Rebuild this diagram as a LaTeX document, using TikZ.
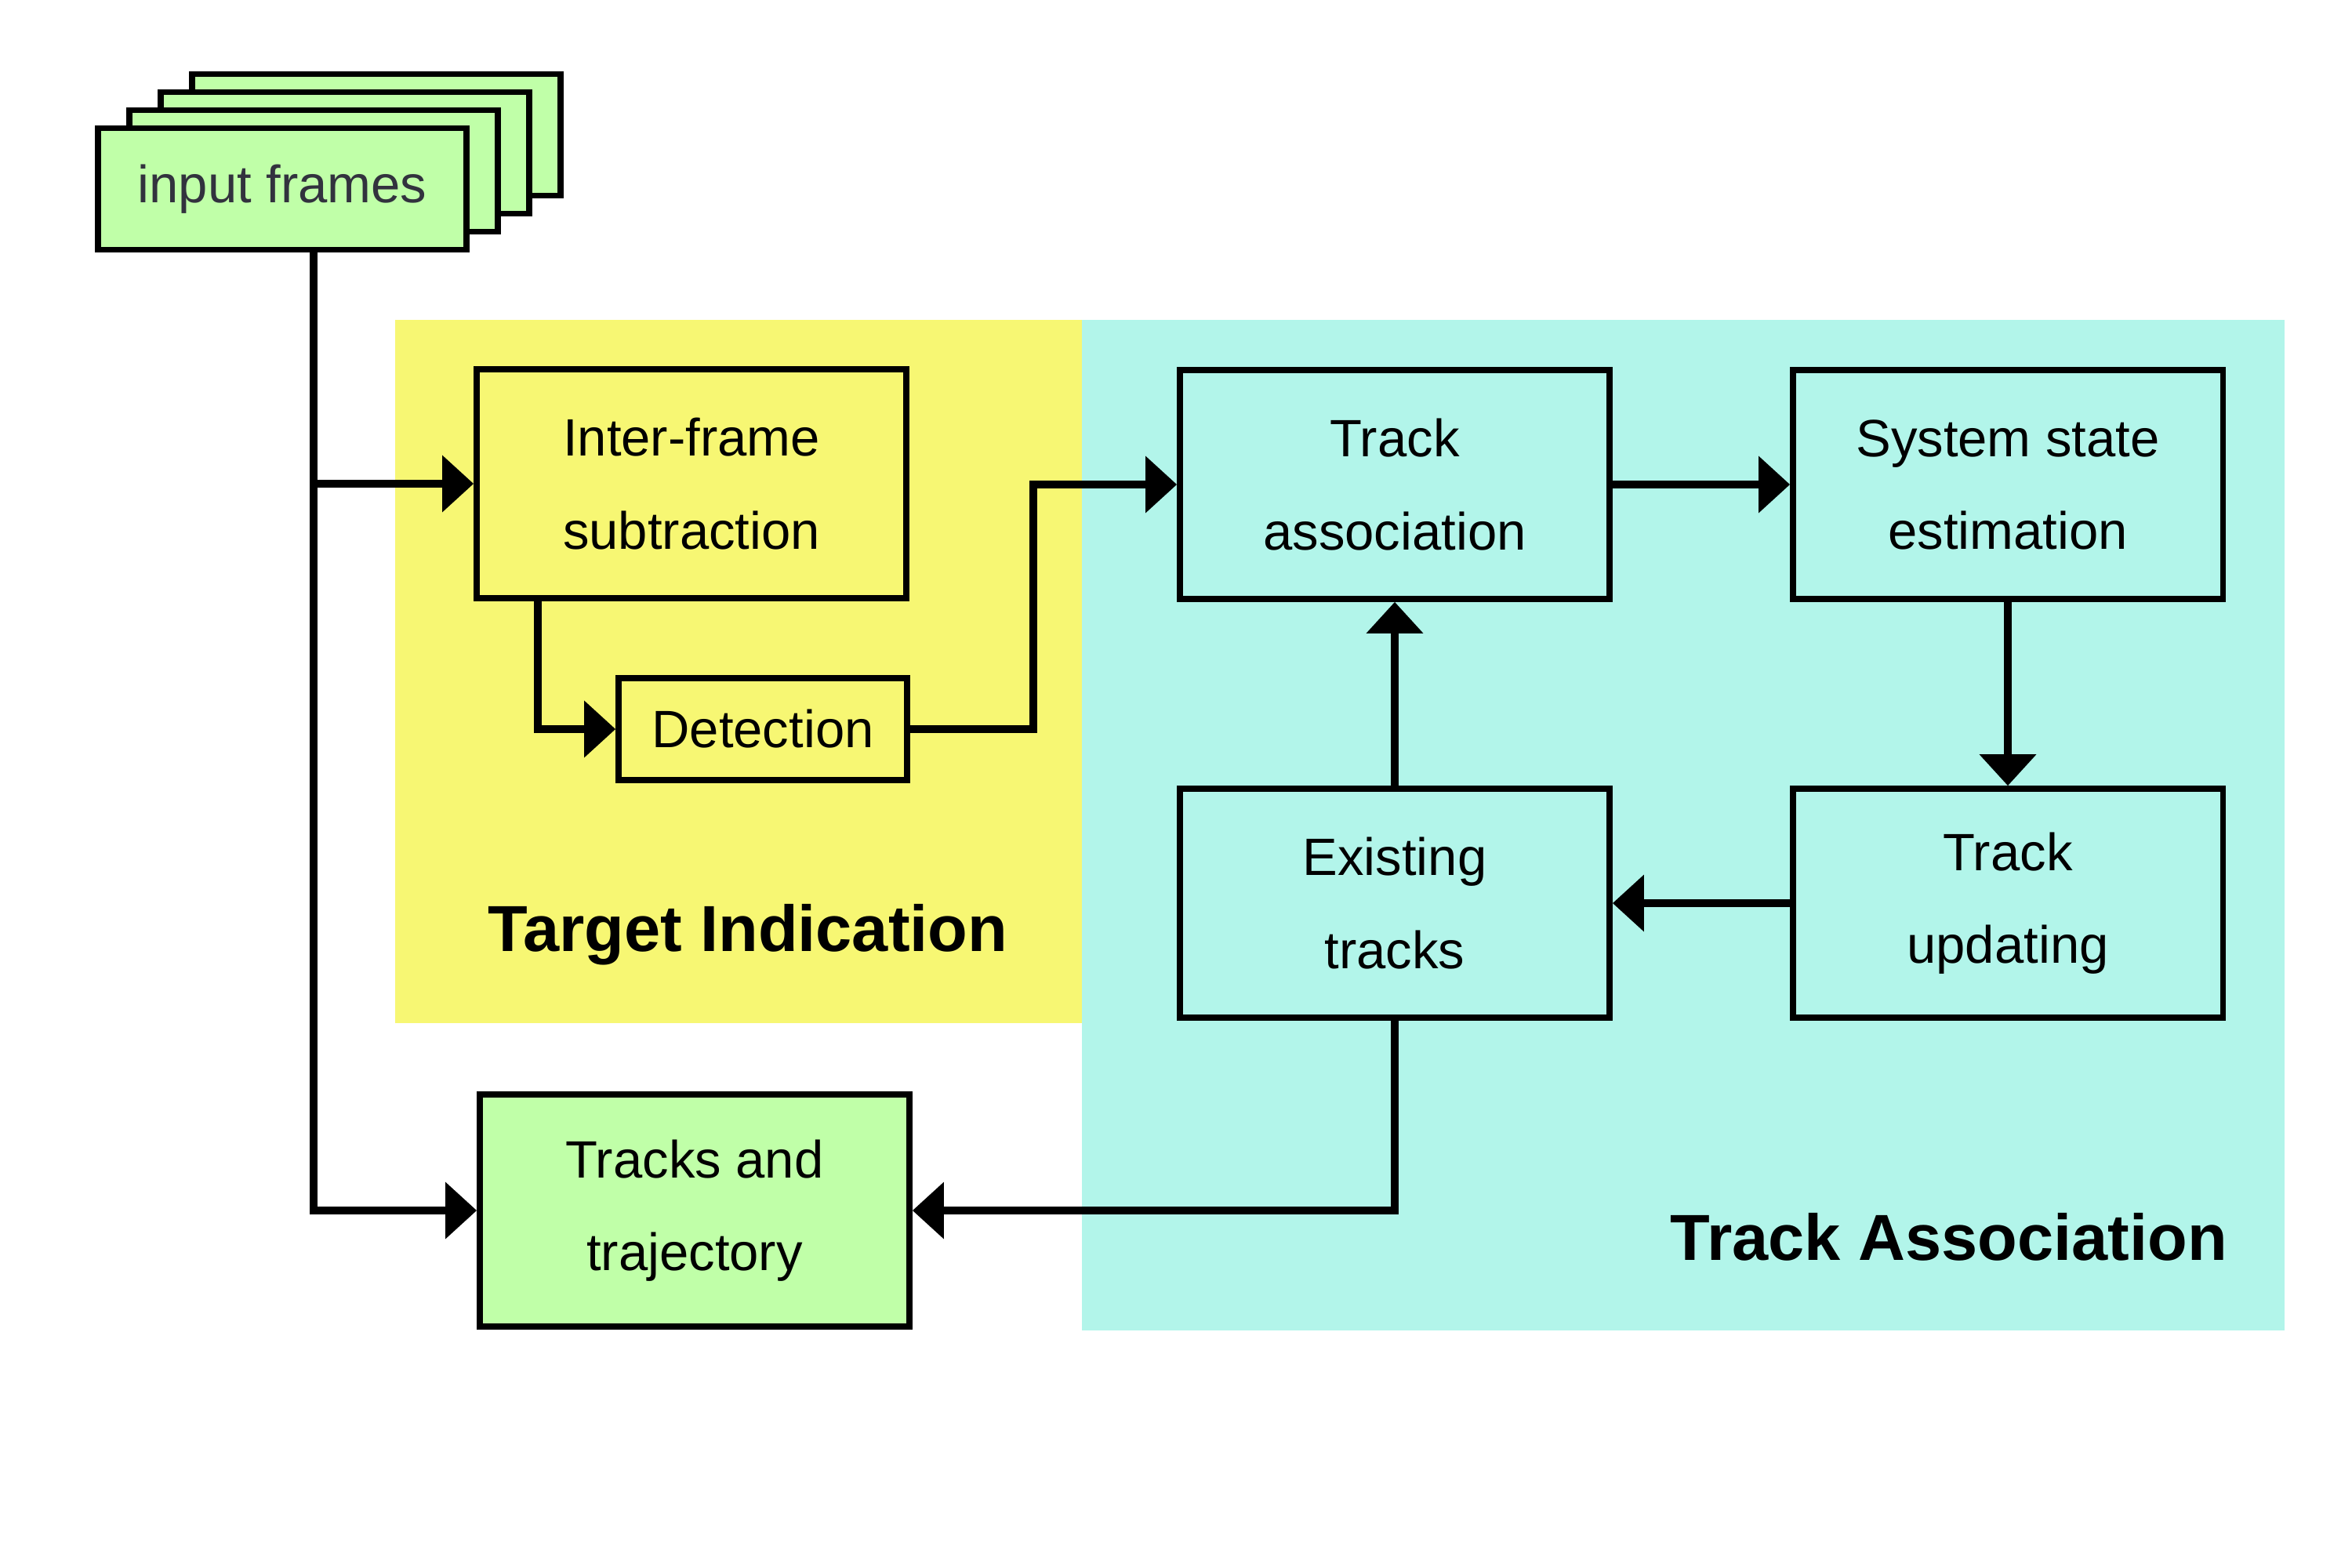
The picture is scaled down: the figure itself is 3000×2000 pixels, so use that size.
\documentclass[tikz,border=0pt]{standalone}
\usepackage{fontspec}
\setmainfont{Liberation Sans}
\usetikzlibrary{arrows.meta,calc}
\definecolor{grn}{RGB}{192,255,168}
\definecolor{ylw}{RGB}{247,247,115}
\definecolor{cyn}{RGB}{178,245,234}
\definecolor{txtgray}{RGB}{50,50,62}
\begin{document}
\begin{tikzpicture}[x=0.01cm,y=-0.01cm,
  box/.style={draw,line width=2.1pt,align=center,inner sep=0pt,
    font=\fontsize{19.06}{33.6}\selectfont,text=black},
  framebox/.style={box,fill=grn,minimum width=4.70cm,minimum height=1.55cm},
  bigbox/.style={box,minimum width=5.48cm,minimum height=2.92cm},
  conn/.style={line width=2.85pt},
  arr/.style={conn,-{Triangle[length=11.4pt,width=20pt]}},
  title/.style={font=\fontsize{23.6}{28}\selectfont\bfseries,text=black}]
\useasboundingbox (0,0) rectangle (3000,2000);
% regions
\fill[ylw] (504,408) rectangle (1380,1305);
\fill[cyn] (1380,408) rectangle (2914,1697);
% input frames stack
\node[framebox] (f3) at (480,172) {};
\node[framebox] (f2) at (440,195) {};
\node[framebox] (f1) at (400,218) {};
\node[framebox,text=txtgray] (in) at (360,241) {input frames};
% process boxes
\node[bigbox,fill=ylw] (ifs) at (882,617) {Inter-frame\\subtraction};
\node[box,fill=ylw,minimum width=3.68cm,minimum height=1.30cm] (det) at (973,930) {Detection};
\node[bigbox,fill=cyn] (ta) at (1779,618) {Track\\association};
\node[bigbox,fill=cyn] (ss) at (2561,618) {System state\\estimation};
\node[bigbox,fill=cyn] (et) at (1779,1152) {Existing\\tracks};
\node[bigbox,fill=cyn] (tu) at (2561,1152) {Track\\updating};
\node[bigbox,fill=grn,minimum height=2.96cm] (tt) at (886,1544) {Tracks and\\trajectory};
% region titles
\node[title] (lt) at (954,1192) {Target Indication};
\node[title] (la) at (2486,1578) {Track Association};
% connectors
\coordinate (trunk) at ($(in.south)+(40,0)$);
\draw[arr] (trunk) |- (tt.west);
\draw[arr] (trunk |- ifs.west) -- (ifs.west);
\draw[arr] ($(ifs.south west)+(82,0)$) |- (det.west);
\draw[arr] (det.east) -- ++(157,0) |- (ta.west);
\draw[arr] (ta.east) -- (ss.west);
\draw[arr] (ss.south) -- (tu.north);
\draw[arr] (tu.west) -- (et.east);
\draw[arr] (et.north) -- (ta.south);
\draw[arr] (et.south) |- (tt.east);
\end{tikzpicture}
\end{document}
